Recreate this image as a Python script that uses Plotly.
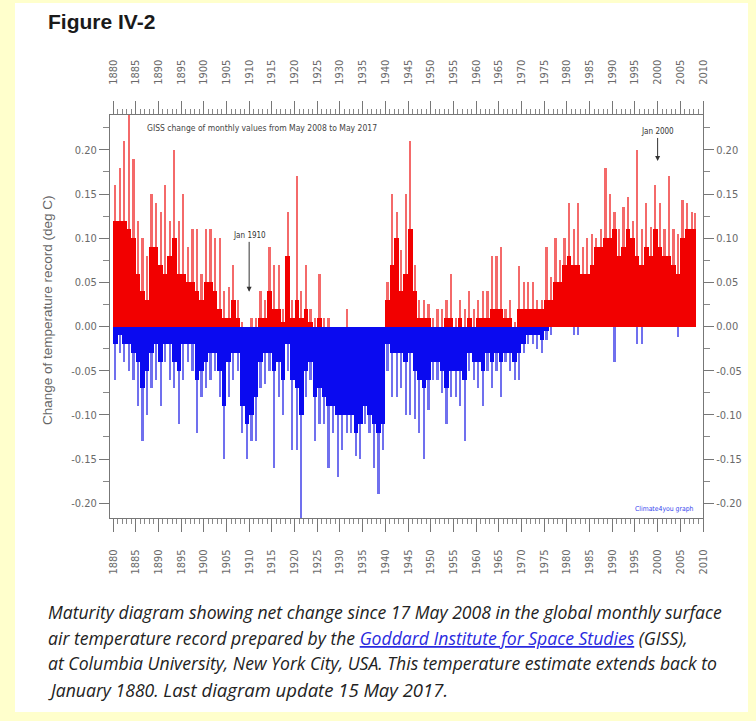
import plotly.graph_objects as go

# ---------------- data (per-year readings, 1880 .. May 2008) ----------------
years = list(range(1880, 2009))

pos_peak = [0.16, 0.18, 0.21, 0.24, 0.19, 0.12, 0.10, 0.08, 0.15, 0.14,
            0.13, 0.16, 0.12, 0.20, 0.12, 0.15, 0.09, 0.11, 0.11, 0.06,
            0.11, 0.11, 0.10, 0.10, 0.04, 0.045, 0.07, 0.03, 0.005, 0.0,
            0.01, 0.01, 0.04, 0.03, 0.09, 0.07, 0.07, 0.02, 0.13, 0.03,
            0.17, 0.04, 0.07, 0.02, 0.01, 0.06, 0.01, 0.01, 0.0, 0.0,
            0.0, 0.02, 0.0, 0.0, 0.0, 0.0, 0.0, 0.0, 0.0, 0.0,
            0.05, 0.15, 0.13, 0.087, 0.15, 0.21, 0.07, 0.03, 0.03, 0.025,
            0.01, 0.02, 0.02, 0.03, 0.06, 0.01, 0.03, 0.02, 0.04, 0.02,
            0.03, 0.04, 0.04, 0.08, 0.08, 0.09, 0.02, 0.03, 0.005, 0.068,
            0.05, 0.05, 0.05, 0.03, 0.03, 0.09, 0.056, 0.10, 0.075, 0.10,
            0.14, 0.11, 0.14, 0.09, 0.10, 0.105, 0.10, 0.11, 0.18, 0.15,
            0.13, 0.11, 0.135, 0.147, 0.12, 0.20, 0.11, 0.14, 0.113, 0.16,
            0.14, 0.11, 0.17, 0.11, 0.105, 0.143, 0.14, 0.13, 0.128]

pos_core = [0.12, 0.12, 0.12, 0.11, 0.10, 0.06, 0.04, 0.03, 0.09, 0.09,
            0.07, 0.06, 0.08, 0.10, 0.06, 0.06, 0.05, 0.05, 0.04, 0.03,
            0.05, 0.05, 0.04, 0.02, 0.01, 0.01, 0.03, 0.01, 0.0, 0.0,
            0.0, 0.0, 0.01, 0.01, 0.04, 0.02, 0.02, 0.005, 0.08, 0.01,
            0.03, 0.01, 0.02, 0.005, 0.0, 0.01, 0.0, 0.0, 0.0, 0.0,
            0.0, 0.0, 0.0, 0.0, 0.0, 0.0, 0.0, 0.0, 0.0, 0.0,
            0.03, 0.07, 0.10, 0.04, 0.06, 0.11, 0.04, 0.01, 0.01, 0.01,
            0.0, 0.0, 0.0, 0.01, 0.01, 0.0, 0.01, 0.0, 0.01, 0.0,
            0.01, 0.01, 0.01, 0.02, 0.02, 0.02, 0.01, 0.01, 0.0, 0.02,
            0.02, 0.02, 0.02, 0.02, 0.02, 0.03, 0.03, 0.05, 0.05, 0.07,
            0.08, 0.07, 0.07, 0.06, 0.06, 0.07, 0.09, 0.09, 0.10, 0.10,
            0.11, 0.08, 0.09, 0.11, 0.10, 0.08, 0.07, 0.09, 0.08, 0.11,
            0.09, 0.08, 0.08, 0.07, 0.06, 0.10, 0.11, 0.11, 0.11]

neg_peak = [-0.06, -0.03, -0.04, -0.05, -0.06, -0.09, -0.13, -0.10, -0.07, -0.06,
            -0.09, -0.04, -0.06, -0.07, -0.11, -0.06, -0.04, -0.05, -0.12, -0.08,
            -0.07, -0.06, -0.05, -0.08, -0.15, -0.08, -0.06, -0.05, -0.12, -0.15,
            -0.13, -0.13, -0.07, -0.065, -0.05, -0.16, -0.08, -0.10, -0.05, -0.14,
            -0.14, -0.217, -0.08, -0.06, -0.13, -0.11, -0.11, -0.16, -0.12, -0.17,
            -0.14, -0.12, -0.12, -0.147, -0.15, -0.11, -0.12, -0.16, -0.19, -0.14,
            -0.05, -0.08, -0.08, -0.07, -0.10, -0.10, -0.105, -0.12, -0.15, -0.095,
            -0.06, -0.06, -0.075, -0.11, -0.08, -0.08, -0.09, -0.13, -0.05, -0.06,
            -0.07, -0.09, -0.05, -0.07, -0.05, -0.08, -0.04, -0.05, -0.06, -0.06,
            -0.03, -0.02, -0.02, -0.025, -0.03, -0.015, -0.01, 0.0, 0.0, 0.0,
            0.0, -0.01, -0.01, 0.0, 0.0, 0.0, 0.0, 0.0, 0.0, 0.0,
            -0.04, 0.0, 0.0, 0.0, 0.0, -0.02, -0.02, 0.0, 0.0, 0.0,
            0.0, 0.0, 0.0, 0.0, -0.012, 0.0, 0.0, 0.0, 0.0]

neg_core = [-0.02, -0.01, -0.02, -0.02, -0.03, -0.04, -0.07, -0.05, -0.03, -0.02,
            -0.04, -0.02, -0.02, -0.04, -0.05, -0.02, -0.02, -0.02, -0.06, -0.05,
            -0.04, -0.03, -0.03, -0.05, -0.09, -0.04, -0.03, -0.03, -0.09, -0.11,
            -0.10, -0.08, -0.04, -0.03, -0.03, -0.05, -0.04, -0.06, -0.02, -0.06,
            -0.07, -0.10, -0.05, -0.04, -0.08, -0.07, -0.08, -0.09, -0.09, -0.10,
            -0.10, -0.10, -0.10, -0.12, -0.11, -0.09, -0.10, -0.11, -0.12, -0.11,
            -0.02, -0.03, -0.03, -0.03, -0.04, -0.03, -0.05, -0.06, -0.07, -0.06,
            -0.04, -0.04, -0.05, -0.07, -0.05, -0.05, -0.05, -0.06, -0.03, -0.04,
            -0.04, -0.05, -0.03, -0.04, -0.03, -0.04, -0.03, -0.03, -0.04, -0.03,
            -0.02, -0.01, -0.01, -0.01, -0.015, -0.005, 0.0, 0.0, 0.0, 0.0,
            0.0, 0.0, 0.0, 0.0, 0.0, 0.0, 0.0, 0.0, 0.0, 0.0,
            0.0, 0.0, 0.0, 0.0, 0.0, 0.0, 0.0, 0.0, 0.0, 0.0,
            0.0, 0.0, 0.0, 0.0, 0.0, 0.0, 0.0, 0.0, 0.0]

data_end = 2008.4  # last month plotted
x_ticks = list(range(1880, 2011, 5))
y_ticks = [-0.20, -0.15, -0.10, -0.05, 0.0, 0.05, 0.10, 0.15, 0.20]

# ---------------- layout geometry ----------------
W, H = 756, 721
PL, PR, PT, PB = 110, 703, 115, 518


def px(x):
    return (x - PL) / (PR - PL)


def py(y):
    return (PB - y) / (PB - PT)


widths = [min(1.0, data_end - y) for y in years]
centers = [y + w / 2 for y, w in zip(years, widths)]
peak_w = [w * 0.5 for w in widths]

RED = "#f20000"
RED_L = "#f46a6a"
BLUE = "#0a0af0"
BLUE_L = "#7070ee"

fig = go.Figure()
fig.add_trace(go.Bar(x=centers, y=pos_peak, width=peak_w, marker_color=RED_L,
                     marker_line_width=0, hoverinfo="skip", showlegend=False))
fig.add_trace(go.Bar(x=centers, y=neg_peak, width=peak_w, marker_color=BLUE_L,
                     marker_line_width=0, hoverinfo="skip", showlegend=False))
fig.add_trace(go.Bar(x=centers, y=pos_core, width=widths, marker_color=RED,
                     marker_line_width=0, hoverinfo="skip", showlegend=False))
fig.add_trace(go.Bar(x=centers, y=neg_core, width=widths, marker_color=BLUE,
                     marker_line_width=0, hoverinfo="skip", showlegend=False))
# dummy trace to register the mirrored axes
fig.add_trace(go.Scatter(x=[], y=[], xaxis="x2", yaxis="y2", showlegend=False))

AX = "#777777"
NARROW = "Liberation Sans Narrow, DejaVu Sans Condensed, Arial Narrow, sans-serif"
TICKFONT = dict(family=NARROW, size=11, color="#6a6a6a")

xr = [1880 - 3 / 4.538, 2010]
yr = [-0.2168, 0.2395]

xcommon = dict(range=xr, tickmode="array", tickvals=x_ticks,
               ticktext=[str(v) for v in x_ticks], tickangle=-90,
               ticks="outside", ticklen=13, tickcolor=AX, tickwidth=1,
               minor=dict(dtick=1, tick0=1880, ticks="outside", ticklen=5,
                          tickcolor="#888888", showgrid=False),
               showline=True, linecolor=AX, linewidth=1,
               showgrid=False, zeroline=False, tickfont=TICKFONT, fixedrange=True)
ycommon = dict(range=yr, tickmode="array", tickvals=y_ticks,
               ticktext=["%.2f" % v for v in y_ticks],
               ticks="outside", ticklen=10, tickcolor=AX, tickwidth=1,
               minor=dict(dtick=0.025, tick0=0, ticks="outside", ticklen=6,
                          tickcolor="#888888", showgrid=False),
               showline=True, linecolor=AX, linewidth=1,
               showgrid=False, zeroline=False, tickfont=TICKFONT, fixedrange=True)

fig.update_layout(
    width=W, height=H,
    margin=dict(l=PL, r=W - PR, t=PT, b=H - PB, autoexpand=False),
    paper_bgcolor="#ffffcc",
    plot_bgcolor="#ffffff",
    barmode="overlay",
    bargap=0,
    xaxis=dict(side="bottom", ticklabelstandoff=13, **xcommon),
    xaxis2=dict(side="top", overlaying="x", anchor="y", matches="x",
                ticklabelstandoff=14, **xcommon),
    yaxis=dict(side="left", **ycommon),
    yaxis2=dict(side="right", overlaying="y", anchor="x", matches="y", **ycommon),
    shapes=[dict(type="rect", xref="paper", yref="paper",
                 x0=px(15), x1=px(748), y0=py(712), y1=py(3),
                 fillcolor="#ffffff", line_width=0, layer="below")],
)

ann = []
ann.append(dict(text="<b>Figure IV-2</b>", xref="paper", yref="paper",
                x=px(46), y=py(21), xanchor="left", yanchor="middle", showarrow=False,
                font=dict(family="Liberation Sans, Arial, sans-serif", size=21, color="#1a1a1a")))
ann.append(dict(text="Change of temperature record (deg C)", xref="paper", yref="paper",
                x=px(47), y=py(310), textangle=-90, xanchor="center", yanchor="middle",
                showarrow=False,
                font=dict(family="Liberation Sans, Arial, sans-serif", size=13.5, color="#666666")))
ann.append(dict(text="GISS change of monthly values from May 2008 to May 2017",
                xref="paper", yref="paper", x=px(145), y=py(128), xanchor="left",
                yanchor="middle", showarrow=False,
                font=dict(family=NARROW, size=8.5, color="#444444")))
ann.append(dict(text="Jan 1910", x=1910, y=(326.7 - 292) / 884, xref="x", yref="y",
                ax=0, ay=-56, showarrow=True, arrowhead=2, arrowsize=1, arrowwidth=1,
                arrowcolor="#333333", standoff=0,
                font=dict(family=NARROW, size=8, color="#333333")))
ann.append(dict(text="Jan 2000", x=2000, y=(326.7 - 161) / 884, xref="x", yref="y",
                ax=0, ay=-29, showarrow=True, arrowhead=2, arrowsize=1, arrowwidth=1,
                arrowcolor="#333333", standoff=0,
                font=dict(family=NARROW, size=8, color="#333333")))
ann.append(dict(text="Climate4you graph", xref="paper", yref="paper",
                x=px(696), y=py(509), xanchor="right", yanchor="middle", showarrow=False,
                font=dict(family=NARROW, size=6.8, color="#3344ee")))

CAP = dict(family="Open Sans, Lato, sans-serif", size=17.6, color="#222222")
cap_lines = [
    "<i>Maturity diagram showing net change since 17 May 2008 in the global monthly surface</i>",
    "<i>air temperature record prepared by the "
    "<span style='color:#2a2ae0'><u>Goddard Institute for Space Studies</u></span> (GISS),</i>",
    "<i>at Columbia University, New York City, USA. This temperature estimate extends back to</i>",
    "<i>January 1880. <span style='font-size:18.5px'>Last diagram update 15 May 2017.</span></i>",
]
cap_y = [612, 638, 663, 689]
for t, yy in zip(cap_lines, cap_y):
    ann.append(dict(text=t, xref="paper", yref="paper", x=px(46), y=py(yy),
                    xanchor="left", yanchor="middle", showarrow=False, font=CAP))

fig.update_layout(annotations=ann)

fig.write_html("out.html", config={"displayModeBar": False})
